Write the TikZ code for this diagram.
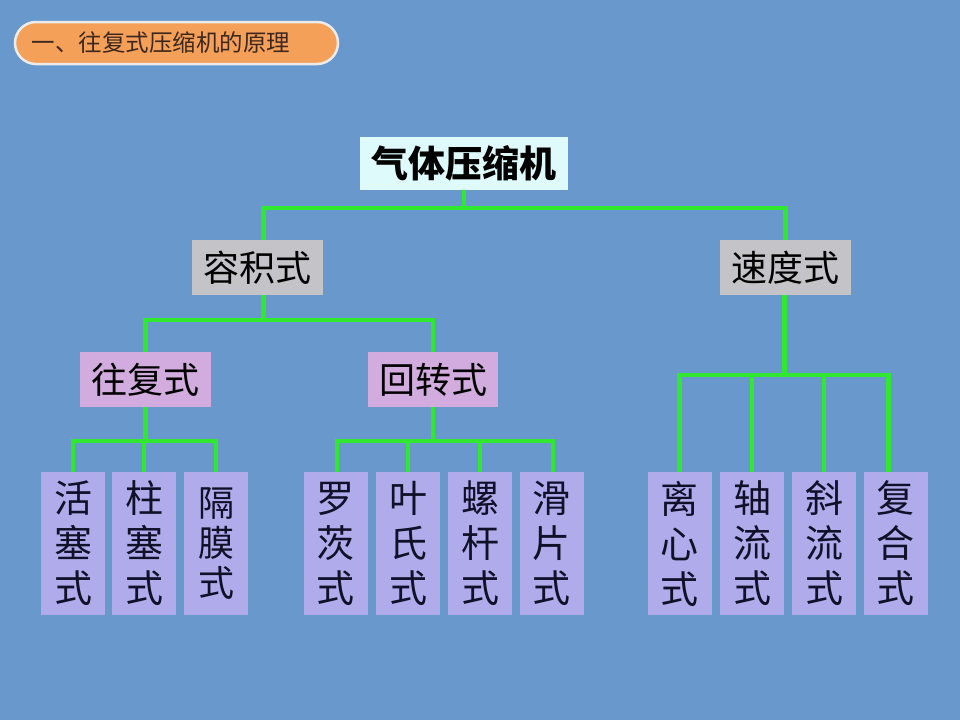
\documentclass[tikz,border=0pt]{standalone}
\usepackage{fontspec}
\newfontfamily\cjk{Noto Sans CJK SC}
\definecolor{bg}{RGB}{104,152,204}
\definecolor{pill}{RGB}{245,160,88}
\definecolor{rootfill}{RGB}{222,250,250}
\definecolor{greyfill}{RGB}{196,196,200}
\definecolor{lilac}{RGB}{210,172,222}
\definecolor{lav}{RGB}{176,172,236}
\definecolor{grn}{RGB}{48,232,48}
\definecolor{leaftext}{RGB}{16,16,40}
\tikzset{
  conn/.style={draw=grn, line width=4.2pt},
  lvl/.style={inner sep=0pt, minimum height=55pt, font=\cjk\fontsize{36}{40}\selectfont, text=black},
  leafbox/.style={fill=lav, inner sep=0pt, minimum width=64pt, minimum height=143pt, align=center,
     font=\cjk\fontsize{38}{45}\selectfont, text=leaftext},
}
\begin{document}
\begin{tikzpicture}[x=1pt,y=-1pt]
\useasboundingbox (0,0) rectangle (960,720);
\fill[bg] (0,0) rectangle (960,720);
% title pill
\node[draw=white!92!black, line width=2.5pt, fill=pill, rounded corners=21pt,
  minimum width=323pt, minimum height=42pt, inner sep=0pt] (title) at (176.5,43) {};
\node[anchor=west, font=\cjk\fontsize{23.5}{26}\selectfont, text={rgb,255:red,60;green,40;blue,30}] (titletext) at (28,43) {一、往复式压缩机的原理};
% root
\node[fill=rootfill, inner sep=0pt, minimum width=208pt, minimum height=53pt,
  font=\cjk\bfseries\fontsize{37}{40}\selectfont] (root) at (464,163.5) {气体压缩机};
% level 1
\node[lvl, fill=greyfill, minimum width=131pt] (rj) at (257.5,267.5) {容积式};
\node[lvl, fill=greyfill, minimum width=131pt] (sd) at (785.5,267.5) {速度式};
% level 2
\node[lvl, fill=lilac, minimum width=131pt] (wf) at (145.5,379.5) {往复式};
\node[lvl, fill=lilac, minimum width=130pt] (hz) at (433,379.5) {回转式};
% leaves
\node[leafbox] (l1) at (73,543.5) {活\\塞\\式};
\node[leafbox] (l2) at (144,543.5) {柱\\塞\\式};
\node[leafbox, font=\cjk\fontsize{36}{40}\selectfont] (l3) at (216,543.5) {隔\\膜\\式};
\node[leafbox] (l4) at (335.5,543.5) {罗\\茨\\式};
\node[leafbox] (l5) at (408,543.5) {叶\\氏\\式};
\node[leafbox] (l6) at (480,543.5) {螺\\杆\\式};
\node[leafbox] (l7) at (551.5,543.5) {滑\\片\\式};
\node[leafbox] (l8) at (679.5,543.5) {离\\心\\式};
\node[leafbox] (l9) at (752,543.5) {轴\\流\\式};
\node[leafbox] (l10) at (824,543.5) {斜\\流\\式};
\node[leafbox] (l11) at (895.5,543.5) {复\\合\\式};
% connectors
\coordinate (b1) at (0,208);
\coordinate (b2) at (0,320);
\coordinate (b3) at (0,441);
\coordinate (b5) at (0,375);
\draw[conn] (root.south) -- (root.south |- b1);
\draw[conn] ([xshift=6pt]rj.north) |- (sd.north |- b1) -- (sd.north);
\draw[conn] ([xshift=6pt]rj.south) -- ([xshift=6pt]rj.south |- b2);
\draw[conn] (wf.north) |- (hz.north |- b2) -- (hz.north);
\draw[conn] (wf.south) -- (wf.south |- b3);
\draw[conn] (l1.north) |- (l3.north |- b3) -- (l3.north);
\draw[conn] (l2.north) -- (l2.north |- b3);
\draw[conn] (hz.south) -- (hz.south |- b3);
\draw[conn] ([xshift=1.5pt]l4.north) |- ([xshift=1.5pt]l7.north |- b3) -- ([xshift=1.5pt]l7.north);
\draw[conn] (l5.north) -- (l5.north |- b3);
\draw[conn] (l6.north) -- (l6.north |- b3);
\draw[conn] ([xshift=-1pt]sd.south) -- ([xshift=-1pt]sd.south |- b5);
\draw[conn] (l8.north) |- ([xshift=-7pt]l11.north |- b5) -- ([xshift=-7pt]l11.north);
\draw[conn] (l9.north) -- (l9.north |- b5);
\draw[conn] (l10.north) -- (l10.north |- b5);
\end{tikzpicture}
\end{document}
